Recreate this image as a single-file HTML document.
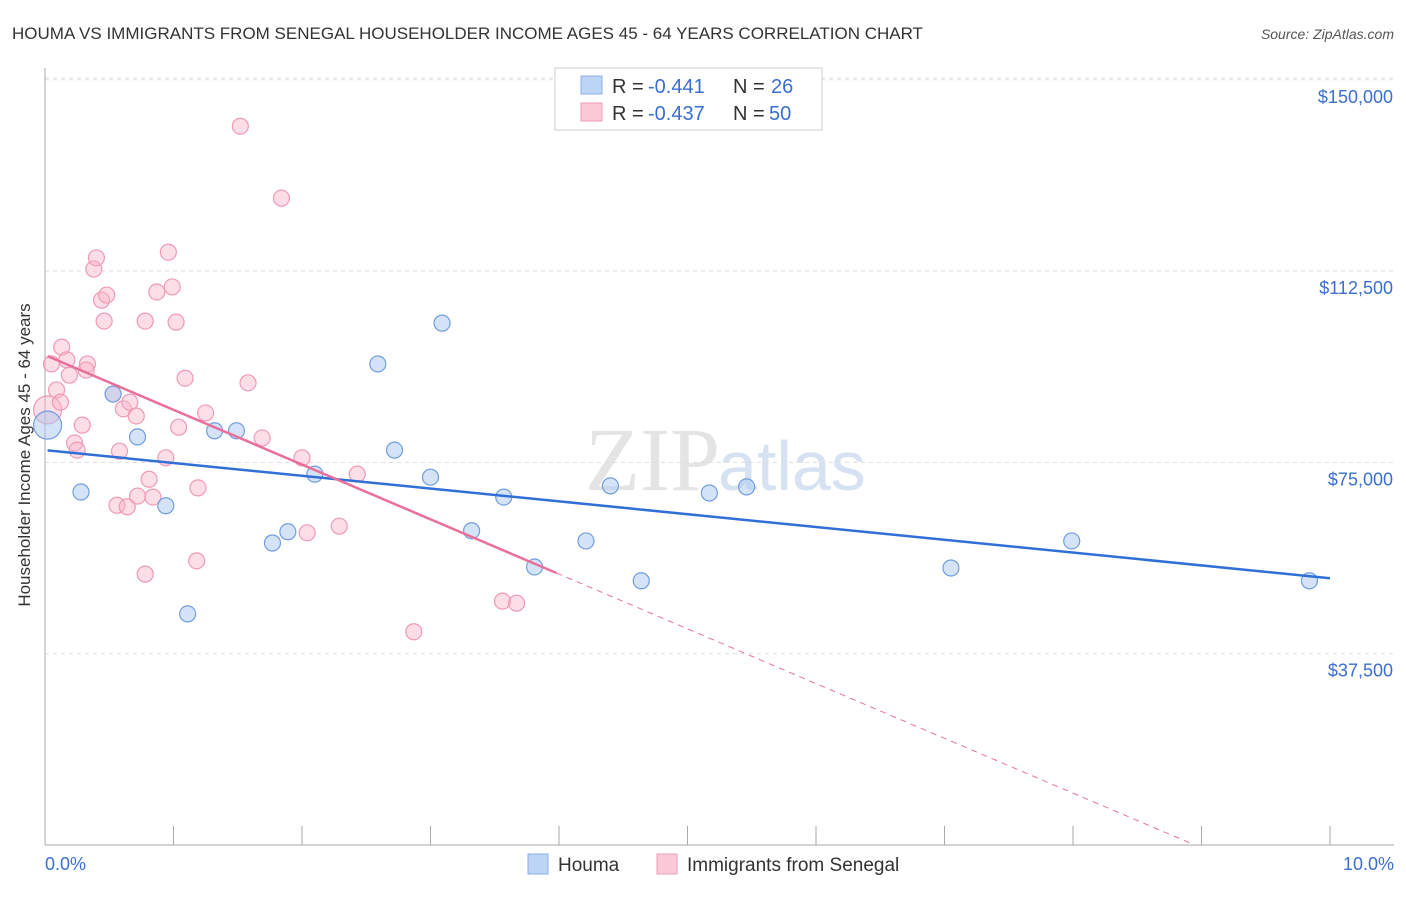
<!DOCTYPE html>
<html><head><meta charset="utf-8"><style>
body{margin:0;background:#fff;font-family:"Liberation Sans",sans-serif}
</style></head><body>
<svg id="c" width="1406" height="892" xmlns="http://www.w3.org/2000/svg" font-family="Liberation Sans, sans-serif">
<text x="12" y="39" font-size="17" fill="#333">HOUMA VS IMMIGRANTS FROM SENEGAL HOUSEHOLDER INCOME AGES 45 - 64 YEARS CORRELATION CHART</text>
<text x="1394" y="39" font-size="14" fill="#555" text-anchor="end" font-style="italic">Source: ZipAtlas.com</text>
<text x="720" y="490" font-size="90" fill="#e4e4e4" text-anchor="end" font-family="Liberation Serif, serif">ZIP</text>
<text x="718" y="490" font-size="70" fill="#d6e2f2">atlas</text>
<g id="grid"></g><g id="axes"></g><g id="pts"></g><g id="lines"></g>
<text x="30" y="455" font-size="17" fill="#333" text-anchor="middle" transform="rotate(-90 30 455)">Householder Income Ages 45 - 64 years</text>
<text x="45" y="870" font-size="18" fill="#3a6fd0">0.0%</text>
<text x="1394" y="870" font-size="18" fill="#3a6fd0" text-anchor="end">10.0%</text>
<g>
<rect x="555" y="68" width="267" height="62" fill="#fff" stroke="#ccc"/>
<rect x="581" y="76" width="21" height="18" fill="#bcd4f5" stroke="#8ab0ea"/>
<rect x="581" y="103" width="21" height="18" fill="#fcc9d8" stroke="#f09ab5"/>
<text x="612" y="93" font-size="20" fill="#333">R =</text>
<text x="648" y="93" font-size="20" fill="#3a6fd0">-0.441</text>
<text x="733" y="93" font-size="20" fill="#333">N =</text>
<text x="771" y="93" font-size="20" fill="#3a6fd0">26</text>
<text x="612" y="120" font-size="20" fill="#333">R =</text>
<text x="648" y="120" font-size="20" fill="#3a6fd0">-0.437</text>
<text x="733" y="120" font-size="20" fill="#333">N =</text>
<text x="769" y="120" font-size="20" fill="#3a6fd0">50</text>
</g>
<g>
<rect x="528" y="854" width="20" height="20" fill="#bcd4f5" stroke="#8ab0ea"/>
<text x="558" y="871" font-size="19" fill="#333">Houma</text>
<rect x="657" y="854" width="20" height="20" fill="#fcc9d8" stroke="#f09ab5"/>
<text x="687" y="871" font-size="19" fill="#333">Immigrants from Senegal</text>
</g>
</svg>
<script>
const yTicks=[37500,75000,112500,150000];
const yTickLabels=["$37,500","$75,000","$112,500","$150,000"];
const houmaX=[0.02,0.28,0.53,0.72,0.94,1.11,1.32,1.49,1.77,1.89,2.10,2.59,2.72,3.00,3.09,3.32,3.57,3.81,4.21,4.40,4.64,5.17,5.46,7.05,7.99,9.84];
const houmaY=[82300,69200,88400,80000,66500,45300,81200,81200,59200,61400,72700,94300,77400,72100,102300,61600,68200,54500,59600,70400,51800,69000,70200,54300,59600,51800];
const senX=[0.02,0.05,0.09,0.12,0.13,0.17,0.19,0.23,0.25,0.29,0.33,0.32,0.38,0.40,0.44,0.48,0.46,0.53,0.56,0.58,0.61,0.64,0.66,0.71,0.72,0.78,0.78,0.81,0.84,0.87,0.94,0.96,0.99,1.02,1.04,1.09,1.18,1.19,1.25,1.52,1.58,1.69,1.84,2.00,2.04,2.29,2.43,2.87,3.56,3.67];
const senY=[85300,94300,89200,86800,97600,95100,92100,78800,77400,82300,94300,93100,112900,115100,106800,107800,102700,88400,66600,77200,85500,66300,86800,84100,68400,53100,102700,71700,68200,108400,75900,116200,109400,102500,81900,91500,55700,70000,84700,140900,90600,79800,126800,75900,61200,62500,72700,41800,47800,47400];
const houmaFit=[77400,52300];
const senFit=[96050,-11300];
const sx=v=>45+v*128.5, sy=v=>845-v/37500*191.3;
const NS="http://www.w3.org/2000/svg";
function mk(t,a,p){const e=document.createElementNS(NS,t);for(const k in a)e.setAttribute(k,a[k]);p.appendChild(e);return e;}
const grid=document.getElementById('grid'),axes=document.getElementById('axes'),pts=document.getElementById('pts'),lines=document.getElementById('lines');
yTicks.forEach((v,i)=>{
 const l=mk('line',{x1:45,x2:1394,y1:sy(v),y2:sy(v),stroke:'#ddd','stroke-dasharray':'4,4'},grid);
 
 
 const t=mk('text',{x:1393,y:sy(v)+23,'font-size':18,fill:'#3a6fd0','text-anchor':'end'},axes);
 t.textContent=yTickLabels[i];
 
 
});
const topLine=mk('line',{x1:45,x2:1394,y1:78,y2:78,stroke:'#ddd','stroke-dasharray':'4,4'},grid);


const ya=mk('line',{x1:45,x2:45,y1:68,y2:845,stroke:'#aaa'},axes);


const xa=mk('line',{x1:45,x2:1394,y1:845,y2:845,stroke:'#aaa'},axes);


for(let i=1;i<=10;i++){const t=mk('line',{x1:sx(i),x2:sx(i),y1:826,y2:845,stroke:'#aaa'},axes);
 
 }
senX.forEach((x,i)=>{const c=mk('circle',{cx:sx(x),cy:sy(senY[i]),r:i==0?14:8,fill:'rgba(250,180,200,0.45)',stroke:'#f09ab5','stroke-width':1.2},pts);
 
 });
houmaX.forEach((x,i)=>{const c=mk('circle',{cx:sx(x),cy:sy(houmaY[i]),r:i==0?14:8,fill:'rgba(170,200,240,0.5)',stroke:'#6f9ee0','stroke-width':1.2},pts);
 
 });
const hf=x=>houmaFit[0]+(houmaFit[1]-houmaFit[0])*x/10;
const hl=mk('line',{x1:sx(0.02),y1:sy(hf(0.02)),x2:sx(10),y2:sy(hf(10)),stroke:'#2f6fd6','stroke-width':2.5},lines);


const sf=x=>senFit[0]+(senFit[1]-senFit[0])*x/10;
const s1=mk('line',{x1:sx(0.02),y1:sy(sf(0.02)),x2:sx(3.98),y2:sy(sf(3.98)),stroke:'#e8709a','stroke-width':2.5},lines);


const xe=(0-senFit[0])/(senFit[1]-senFit[0])*10;
const s2=mk('line',{x1:sx(3.98),y1:sy(sf(3.98)),x2:sx(xe),y2:sy(0),stroke:'#e8709a','stroke-width':1,'stroke-dasharray':'6,5'},lines);


</script>
</body></html>
